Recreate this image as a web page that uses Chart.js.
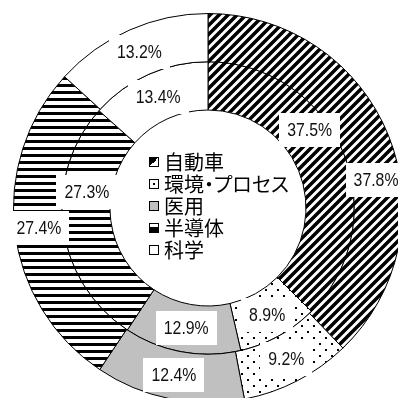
<!DOCTYPE html>
<html><head><meta charset="utf-8">
<script src="https://cdn.jsdelivr.net/npm/chart.js@4.4.0/dist/chart.umd.min.js"></script>
<style>
html,body{margin:0;padding:0;background:#fff;overflow:hidden;width:398px;height:398px;position:relative;}
#wrap{position:absolute;left:0;top:0;width:416px;height:416px;}
#legend{position:absolute;left:149px;top:151px;font-family:"Noto Sans CJK JP";font-size:20px;color:#000;font-feature-settings:"palt";}
.row{height:22px;line-height:22px;display:flex;align-items:center;white-space:nowrap;}
.ico{width:10px;height:10px;box-sizing:border-box;border:1px solid #000;margin-right:5px;flex:none;background-color:#fff;}
</style></head>
<body>
<div id="wrap"><canvas id="c" width="416" height="416"></canvas></div>
<div id="legend"></div>
<script>
const categories = ['自動車', '環境・プロセス', '医用', '半導体', '科学'];
const outerValues = [37.8, 9.2, 12.4, 27.4, 13.2];
const innerValues = [37.5, 8.9, 12.9, 27.3, 13.4];

function tile(w, h, draw) {
  const t = document.createElement('canvas');
  t.width = w; t.height = h;
  const g = t.getContext('2d');
  g.fillStyle = '#fff'; g.fillRect(0, 0, w, h);
  draw(g, w, h);
  return document.getElementById('c').getContext('2d').createPattern(t, 'repeat');
}
const diag = tile(9, 9, (g, s) => {
  g.strokeStyle = '#000'; g.lineWidth = 3.5; g.beginPath();
  g.moveTo(-2, s + 2); g.lineTo(s + 2, -2);
  g.moveTo(-3, 3); g.lineTo(3, -3);
  g.moveTo(s - 3, s + 3); g.lineTo(s + 3, s - 3);
  g.stroke();
});
const dots = tile(12, 12, (g) => {
  g.fillStyle = '#000'; g.fillRect(1, 1, 2, 2); g.fillRect(7, 7, 2, 2);
});
const hstripe = tile(4, 7, (g, w) => {
  g.fillStyle = '#000'; g.fillRect(0, 0, w, 3);
});
const fills = [diag, dots, '#c0c0c0', hstripe, '#ffffff'];
const legendIcons = [
  'linear-gradient(135deg,#000 50%,#fff 50%)',
  'linear-gradient(#000,#000) center/2px 2px no-repeat #fff',
  '#c0c0c0',
  'linear-gradient(to bottom,#fff 40%,#000 40%)',
  '#fff'
];

const leg = document.getElementById('legend');
categories.forEach((c, i) => {
  const row = document.createElement('div'); row.className = 'row';
  const ico = document.createElement('span'); ico.className = 'ico';
  ico.style.background = legendIcons[i];
  const tx = document.createElement('span'); tx.textContent = c;
  row.appendChild(ico); row.appendChild(tx); leg.appendChild(row);
});

const labelPlugin = {
  id: 'pctLabels',
  afterDatasetsDraw(chart, args, opts) {
    const ctx = chart.ctx;
    ctx.save();
    ctx.font = opts.font;
    ctx.textAlign = 'center'; ctx.textBaseline = 'middle';
    chart.data.datasets.forEach((ds, di) => {
      const meta = chart.getDatasetMeta(di);
      meta.data.forEach((arc, i) => {
        const p = arc.getProps(['x', 'y', 'startAngle', 'endAngle', 'innerRadius', 'outerRadius'], true);
        const adj = (opts.adjust && opts.adjust[di + '-' + i]) || {};
        const a = (p.startAngle + p.endAngle) / 2 + (adj.da || 0) * Math.PI / 180;
        const r = (p.innerRadius + p.outerRadius) / 2 + (adj.dr || 0);
        const x = p.x + Math.cos(a) * r, y = p.y + Math.sin(a) * r;
        const txt = ds.data[i].toFixed(1) + '%';
        const tw = ctx.measureText(txt).width * opts.squeeze;
        const w = Math.round(tw + 16), h = 34;
        ctx.fillStyle = '#fff';
        ctx.fillRect(Math.round(x - w / 2), Math.round(y - h / 2), w, h);
        ctx.fillStyle = '#111';
        ctx.save();
        ctx.translate(x, y + 1);
        ctx.scale(opts.squeeze, 1);
        ctx.fillText(txt, 0, 0);
        ctx.restore();
      });
    });
    ctx.restore();
  }
};

new Chart(document.getElementById('c'), {
  type: 'doughnut',
  data: {
    labels: categories,
    datasets: [
      { data: outerValues, backgroundColor: fills, borderColor: '#000', borderWidth: 1 },
      { data: innerValues, backgroundColor: fills, borderColor: '#000', borderWidth: 1 }
    ]
  },
  options: {
    responsive: false,
    animation: false,
    events: [],
    cutout: 98,
    layout: { padding: 13 },
    plugins: {
      legend: { display: false },
      tooltip: { enabled: false },
      pctLabels: {
        font: '18px "Liberation Sans", Arial, sans-serif',
        squeeze: 0.88,
        adjust: { '0-0': { da: 12.5 }, '1-0': { da: -15, dr: 6 }, '1-3': { da: 15 } }
      }
    }
  },
  plugins: [labelPlugin]
});
</script>
</body></html>
